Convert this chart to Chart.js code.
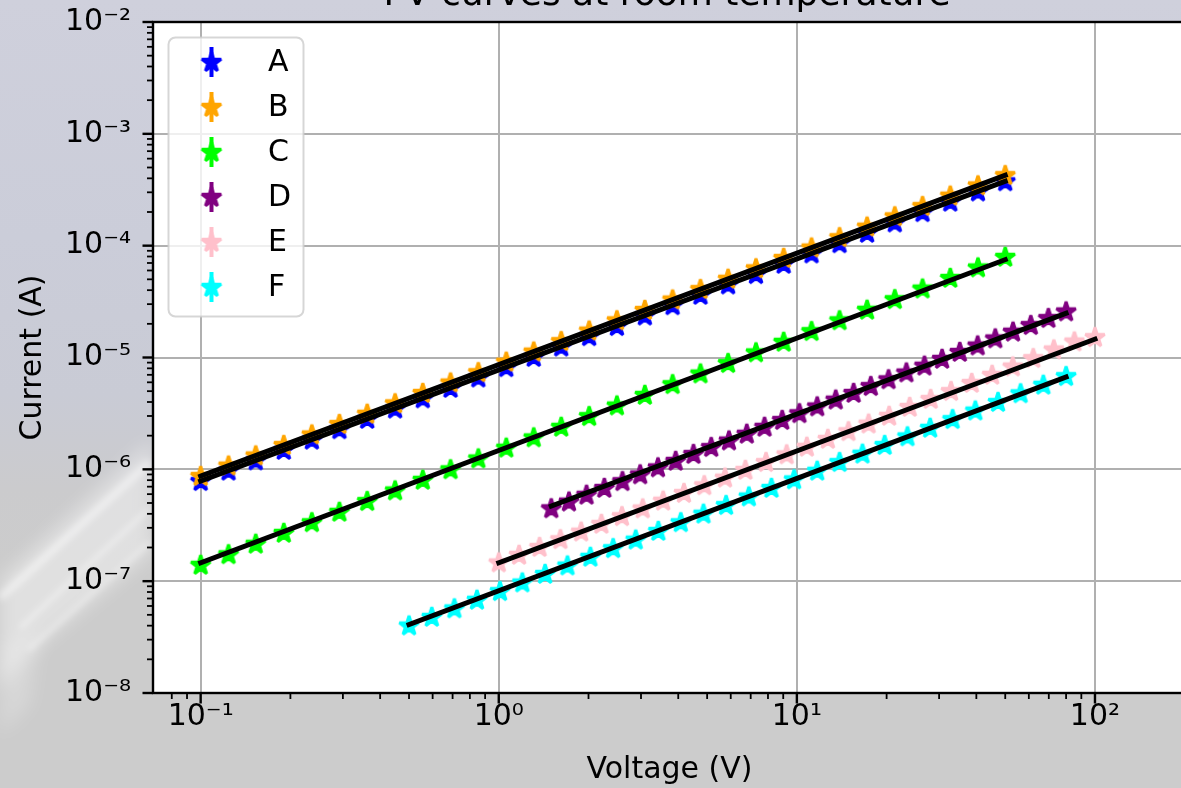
<!DOCTYPE html>
<html>
<head>
<meta charset="utf-8">
<title>I-V curves at room temperature</title>
<script src="https://cdn.jsdelivr.net/npm/chart.js@4.4.1/dist/chart.umd.min.js"></script>
<style>
  html, body { margin: 0; padding: 0; overflow: hidden; }
  body {
    width: 1181px; height: 788px;
    background: linear-gradient(to bottom, #cfd0dc 0%, #cbcdd9 30%, #c9cbd5 50%, #cbcbcd 62%, #cccccc 72%, #cccccc 100%);
  }
  #wrap { position: absolute; left: 0; top: 0; width: 1186px; height: 788px; }
</style>
</head>
<body>
<div id="wrap"><canvas id="ivChart" width="1186" height="788"></canvas></div>
<script>
// series labels and colours
const seriesNames = ['A', 'B', 'C', 'D', 'E', 'F'];
const seriesColors = ['blue', 'orange', 'lime', 'purple', 'pink', 'cyan'];

// voltages (V)
const voltsABC = [0.1, 0.124, 0.153, 0.19, 0.236, 0.292, 0.362, 0.449, 0.556, 0.689, 0.854, 1.06, 1.31, 1.62, 2.01,
  2.49, 3.09, 3.83, 4.75, 5.88, 7.29, 9.03, 11.2, 13.9, 17.2, 21.3, 26.4, 32.7, 40.5, 50];
const voltsD = [1.5, 1.72, 1.97, 2.26, 2.6, 2.98, 3.42, 3.92, 4.5, 5.16, 5.92, 6.79, 7.79, 8.93, 10.2,
  11.7, 13.5, 15.5, 17.7, 20.3, 23.3, 26.8, 30.7, 35.2, 40.4, 46.3, 53.1, 60.9, 69.8, 80];
const voltsE = [1, 1.17, 1.37, 1.61, 1.89, 2.21, 2.59, 3.04, 3.56, 4.18, 4.89, 5.74, 6.72, 7.88, 9.24,
  10.8, 12.7, 14.9, 17.4, 20.4, 23.9, 28.1, 32.9, 38.6, 45.2, 53, 62.1, 72.8, 85.3, 100];
const voltsF = [0.5, 0.596, 0.71, 0.845, 1.01, 1.2, 1.43, 1.7, 2.03, 2.42, 2.88, 3.43, 4.08, 4.86, 5.79,
  6.9, 8.22, 9.79, 11.7, 13.9, 16.6, 19.7, 23.5, 28, 33.3, 39.7, 47.3, 56.3, 67.1, 80];

// currents (A)
const currentA = [7.85e-7, 9.72e-7, 1.20e-6, 1.49e-6, 1.84e-6, 2.28e-6, 2.82e-6, 3.49e-6, 4.31e-6, 5.34e-6,
  6.61e-6, 8.19e-6, 1.01e-5, 1.25e-5, 1.55e-5, 1.91e-5, 2.37e-5, 2.93e-5, 3.63e-5, 4.49e-5,
  5.56e-5, 6.87e-5, 8.51e-5, 1.05e-4, 1.30e-4, 1.61e-4, 1.99e-4, 2.47e-4, 3.05e-4, 3.76e-4];
const currentB = [8.71e-7, 1.08e-6, 1.33e-6, 1.65e-6, 2.05e-6, 2.54e-6, 3.14e-6, 3.89e-6, 4.82e-6, 5.97e-6,
  7.39e-6, 9.17e-6, 1.13e-5, 1.40e-5, 1.74e-5, 2.15e-5, 2.66e-5, 3.30e-5, 4.09e-5, 5.06e-5,
  6.27e-5, 7.76e-5, 9.62e-5, 1.19e-4, 1.48e-4, 1.83e-4, 2.26e-4, 2.80e-4, 3.46e-4, 4.27e-4];
const currentC = [1.40e-7, 1.74e-7, 2.16e-7, 2.70e-7, 3.36e-7, 4.17e-7, 5.20e-7, 6.47e-7, 8.05e-7, 1.00e-6,
  1.25e-6, 1.56e-6, 1.93e-6, 2.40e-6, 2.99e-6, 3.72e-6, 4.63e-6, 5.77e-6, 7.19e-6, 8.91e-6,
  1.11e-5, 1.38e-5, 1.72e-5, 2.15e-5, 2.67e-5, 3.32e-5, 4.13e-5, 5.14e-5, 6.38e-5, 7.93e-5];
const currentD = [4.48e-7, 5.15e-7, 5.92e-7, 6.81e-7, 7.83e-7, 9.01e-7, 1.04e-6, 1.19e-6, 1.37e-6, 1.58e-6,
  1.81e-6, 2.08e-6, 2.40e-6, 2.76e-6, 3.17e-6, 3.65e-6, 4.20e-6, 4.82e-6, 5.55e-6, 6.38e-6,
  7.34e-6, 8.44e-6, 9.71e-6, 1.12e-5, 1.28e-5, 1.48e-5, 1.70e-5, 1.95e-5, 2.25e-5, 2.58e-5];
const currentE = [1.47e-7, 1.72e-7, 2.02e-7, 2.37e-7, 2.77e-7, 3.25e-7, 3.81e-7, 4.47e-7, 5.24e-7, 6.14e-7,
  7.20e-7, 8.43e-7, 9.88e-7, 1.16e-6, 1.36e-6, 1.59e-6, 1.87e-6, 2.19e-6, 2.56e-6, 3.01e-6,
  3.61e-6, 4.25e-6, 5.01e-6, 5.92e-6, 7.00e-6, 8.30e-6, 9.86e-6, 1.18e-5, 1.39e-5, 1.52e-5];
const currentF = [4.01e-8, 4.79e-8, 5.71e-8, 6.82e-8, 8.14e-8, 9.72e-8, 1.16e-7, 1.38e-7, 1.65e-7, 1.97e-7,
  2.35e-7, 2.81e-7, 3.36e-7, 4.01e-7, 4.79e-7, 5.71e-7, 6.81e-7, 8.13e-7, 9.71e-7, 1.16e-6,
  1.38e-6, 1.65e-6, 1.97e-6, 2.35e-6, 2.81e-6, 3.35e-6, 4.00e-6, 4.78e-6, 5.70e-6, 6.81e-6];

// fitted lines: [voltage, current] at both ends
const fitA = [[0.1, 7.85e-7], [50, 3.77e-4]];
const fitB = [[0.1, 8.7e-7], [50, 4.26e-4]];
const fitC = [[0.1, 1.46e-7], [50, 7.5e-5]];
const fitD = [[1.5, 4.69e-7], [80, 2.49e-5]];
const fitE = [[1, 1.46e-7], [100, 1.46e-5]];
const fitF = [[0.5, 4.09e-8], [80, 6.7e-6]];

// axis limits
const xLimits = [0.0692, 202];
const yLimits = [1e-8, 1e-2];

const titleText = 'I-V curves at room temperature';
const FONT = '"DejaVu Sans", sans-serif';

const allVolts = [voltsABC, voltsABC, voltsABC, voltsD, voltsE, voltsF];
const allCurrents = [currentA, currentB, currentC, currentD, currentE, currentF];
const allFits = [fitA, fitB, fitC, fitD, fitE, fitF];

// filled star marker like matplotlib '*'
function starMarker(color) {
  const c = document.createElement('canvas');
  c.width = 30; c.height = 30;
  const g = c.getContext('2d');
  g.beginPath();
  for (let i = 0; i < 10; i++) {
    const r = i % 2 ? 10.2 * 0.382 : 10.2;
    const a = -Math.PI / 2 + i * Math.PI / 5;
    const px = 15 + r * Math.cos(a), py = 15.5 + r * Math.sin(a);
    if (i === 0) g.moveTo(px, py); else g.lineTo(px, py);
  }
  g.closePath();
  g.fillStyle = color;
  g.fill();
  g.lineWidth = 3;
  g.lineJoin = 'bevel';
  g.strokeStyle = color;
  g.stroke();
  return c;
}

function isDecade(v) {
  const l = Math.log10(v);
  return Math.abs(l - Math.round(l)) < 1e-6;
}

const supChars = { '-': '\u207B', '0': '\u2070', '1': '\u00B9', '2': '\u00B2', '3': '\u00B3',
  '4': '\u2074', '5': '\u2075', '6': '\u2076', '7': '\u2077', '8': '\u2078', '9': '\u2079' };
function decadeLabel(v) {
  if (!isDecade(v)) return '';
  const e = String(Math.round(Math.log10(v)));
  return '10' + e.split('').map(ch => supChars[ch]).join('');
}

const datasets = [];
seriesNames.forEach((name, i) => {
  datasets.push({
    label: name,
    data: allVolts[i].map((v, j) => ({ x: v, y: allCurrents[i][j] })),
    pointStyle: starMarker(seriesColors[i]),
    pointRadius: 10,
    pointHoverRadius: 10,
    borderColor: seriesColors[i],
    backgroundColor: seriesColors[i],
    showLine: false,
    order: 20 - i
  });
});
allFits.forEach((fit, i) => {
  datasets.push({
    data: fit.map(p => ({ x: p[0], y: p[1] })),
    showLine: true,
    pointRadius: 0,
    borderColor: '#000',
    borderWidth: 5,
    borderCapStyle: 'square',
    order: 6 - i
  });
});

// background streak, white plot area, spines, tick marks, title and legend
const decor = {
  id: 'decor',
  beforeDraw(chart) {
    const { ctx, chartArea: a } = chart;
    ctx.save();
    ctx.filter = 'blur(9px)';
    ctx.fillStyle = 'rgba(255,255,255,0.4)';
    ctx.beginPath();
    ctx.moveTo(0, 580); ctx.lineTo(152, 440); ctx.lineTo(152, 552); ctx.lineTo(26, 656); ctx.lineTo(0, 690);
    ctx.closePath(); ctx.fill();
    ctx.fillStyle = 'rgba(255,255,255,0.22)';
    ctx.beginPath();
    ctx.moveTo(0, 650); ctx.lineTo(40, 630); ctx.lineTo(30, 705); ctx.lineTo(0, 735);
    ctx.closePath(); ctx.fill();
    ctx.filter = 'blur(3px)';
    ctx.strokeStyle = 'rgba(255,255,255,0.45)';
    ctx.lineWidth = 8;
    ctx.beginPath(); ctx.moveTo(0, 598); ctx.lineTo(150, 462); ctx.stroke();
    ctx.lineWidth = 4;
    ctx.beginPath(); ctx.moveTo(20, 628); ctx.lineTo(150, 508); ctx.stroke();
    ctx.beginPath(); ctx.moveTo(28, 650); ctx.lineTo(150, 542); ctx.stroke();
    ctx.filter = 'none';
    ctx.fillStyle = '#ffffff';
    ctx.fillRect(a.left, a.top, a.right - a.left, a.bottom - a.top);
    ctx.restore();
  },
  afterDatasetsDraw(chart) {
    const { ctx, chartArea: a, scales } = chart;
    ctx.save();
    ctx.strokeStyle = '#000';
    const drawTicks = (scale, horizontal) => {
      scale.ticks.forEach(t => {
        const v = t.value;
        const e = Math.floor(Math.log10(v) + 1e-9);
        const s = v / Math.pow(10, e);
        if (Math.abs(s - Math.round(s)) > 1e-6) return;
        const major = Math.round(s) === 1 || Math.round(s) === 10;
        const len = major ? 10.5 : 6;
        const p = scale.getPixelForValue(v);
        ctx.lineWidth = major ? 2.4 : 1.8;
        ctx.beginPath();
        if (horizontal) {
          if (p < a.left - 1 || p > a.right + 1) return;
          ctx.moveTo(p, a.bottom); ctx.lineTo(p, a.bottom + len);
        } else {
          if (p < a.top - 1 || p > a.bottom + 1) return;
          ctx.moveTo(a.left, p); ctx.lineTo(a.left - len, p);
        }
        ctx.stroke();
      });
    };
    drawTicks(scales.x, true);
    drawTicks(scales.y, false);
    ctx.lineWidth = 2.4;
    ctx.strokeRect(a.left, a.top, a.right - a.left, a.bottom - a.top);
    ctx.restore();
  },
  afterDraw(chart) {
    const { ctx } = chart;
    ctx.save();
    // title, mostly cut off by the top edge
    ctx.fillStyle = '#000';
    ctx.font = '36px ' + FONT;
    ctx.textAlign = 'center';
    ctx.textBaseline = 'alphabetic';
    ctx.fillText(titleText, 667, 5);

    // legend box
    ctx.beginPath();
    ctx.roundRect(168.5, 37.5, 135, 279, 7);
    ctx.fillStyle = 'rgba(255,255,255,0.8)';
    ctx.fill();
    ctx.lineWidth = 2;
    ctx.strokeStyle = 'rgba(204,204,204,0.8)';
    ctx.stroke();
    const items = chart.data.datasets.filter(d => d.label);
    ctx.font = '30px ' + FONT;
    ctx.textAlign = 'left';
    ctx.textBaseline = 'middle';
    items.forEach((d, i) => {
      const cy = 62 + i * 45;
      ctx.strokeStyle = d.borderColor;
      ctx.lineWidth = 4;
      ctx.beginPath();
      ctx.moveTo(211.5, cy - 15); ctx.lineTo(211.5, cy + 15);
      ctx.stroke();
      ctx.drawImage(d.pointStyle, 211.5 - 15, cy - 15);
      ctx.fillStyle = '#000';
      ctx.fillText(d.label, 268, cy + 1);
    });
    ctx.restore();
  }
};

const ctx = document.getElementById('ivChart').getContext('2d');
const ivChart = new Chart(ctx, {
  type: 'scatter',
  data: { datasets: datasets },
  options: {
    responsive: false,
    devicePixelRatio: 1,
    animation: false,
    events: [],
    layout: { autoPadding: false, padding: { top: 22, left: 0, right: 0, bottom: 0 } },
    plugins: {
      legend: { display: false },
      tooltip: { enabled: false },
      title: { display: false }
    },
    scales: {
      x: {
        type: 'logarithmic',
        position: 'bottom',
        min: xLimits[0],
        max: xLimits[1],
        afterFit: s => { s.height = 95; s.paddingLeft = 0; s.paddingRight = 0; },
        border: { display: false },
        grid: {
          drawTicks: false,
          lineWidth: 2,
          color: c => (c.tick && isDecade(c.tick.value)) ? '#b0b0b0' : 'rgba(0,0,0,0)'
        },
        ticks: {
          autoSkip: false,
          maxRotation: 0,
          minRotation: 0,
          padding: 6,
          color: '#000',
          font: { family: FONT, size: 30 },
          callback: v => decadeLabel(v)
        },
        title: {
          display: true,
          text: 'Voltage (V)',
          color: '#000',
          font: { family: FONT, size: 30 },
          padding: { top: 0, bottom: 0 }
        }
      },
      y: {
        type: 'logarithmic',
        position: 'left',
        min: yLimits[0],
        max: yLimits[1],
        afterFit: s => { s.width = 153; s.paddingTop = 0; s.paddingBottom = 0; },
        border: { display: false },
        grid: {
          drawTicks: false,
          lineWidth: 2,
          color: c => (c.tick && isDecade(c.tick.value)) ? '#b0b0b0' : 'rgba(0,0,0,0)'
        },
        ticks: {
          autoSkip: false,
          padding: 22,
          color: '#000',
          font: { family: FONT, size: 30 },
          callback: v => decadeLabel(v)
        },
        title: {
          display: true,
          text: 'Current (A)',
          color: '#000',
          font: { family: FONT, size: 30 },
          padding: { top: 15, bottom: 0 }
        }
      }
    }
  },
  plugins: [decor]
});
</script>
</body>
</html>
